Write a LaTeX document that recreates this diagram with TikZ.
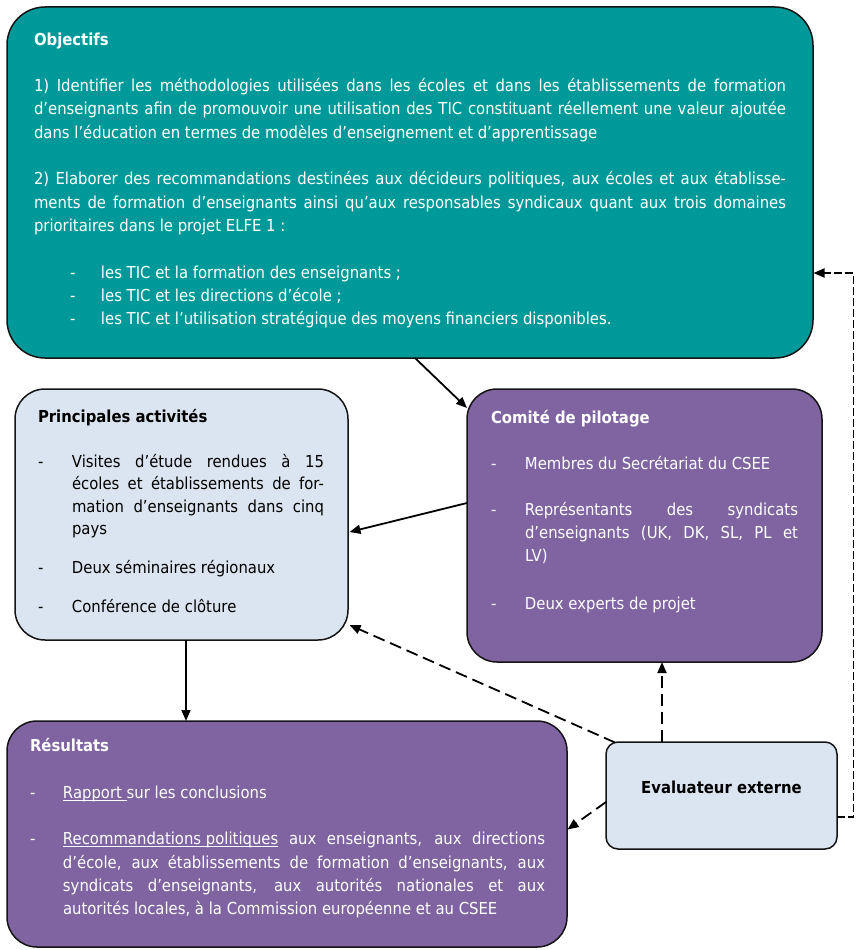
\documentclass[tikz,border=0pt]{standalone}
\usepackage{fontspec}
\setmainfont{DejaVu Sans}[FakeStretch=0.9]
\usetikzlibrary{arrows.meta,calc}
\definecolor{tealbox}{RGB}{0,153,153}
\definecolor{purpbox}{RGB}{128,100,162}
\definecolor{bluebox}{RGB}{219,229,241}
\definecolor{edgecol}{RGB}{20,20,20}
\newcommand\myul[1]{\setbox0\hbox{#1}\rlap{\rule[-2.5pt]{\wd0}{1pt}}\box0\relax}
\newcommand\bitem[3]{\par\hangindent=#2\hangafter=1\noindent\makebox[#2][l]{\hspace{#1}-}#3}
\tikzset{
  box/.style={draw=edgecol, line width=1.5pt, anchor=north west, inner sep=0pt, outer sep=0pt},
  txt/.style={anchor=north west, inner sep=0pt, outer sep=0pt, align=justify},
  conn/.style={line width=1.8pt, -{Triangle[length=11pt,width=9pt]}},
  dconn/.style={conn, dash pattern=on 12pt off 6pt},
  rconn/.style={conn, dash pattern=on 8pt off 3pt},
}
\begin{document}
\begin{tikzpicture}[x=1pt,y=-1pt]
\useasboundingbox (0,0) rectangle (855,950);
% boxes
\node[box, fill=tealbox, rounded corners=38pt, minimum width=806pt, minimum height=351pt] (obj) at (7,7) {};
\node[box, fill=bluebox, rounded corners=30pt, minimum width=333pt, minimum height=251pt] (pri) at (15,389) {};
\node[box, fill=purpbox, rounded corners=30pt, minimum width=355pt, minimum height=273pt] (com) at (467,389) {};
\node[box, fill=purpbox, rounded corners=30pt, minimum width=560pt, minimum height=226pt] (res) at (7,721) {};
\node[box, fill=bluebox, rounded corners=12pt, minimum width=231pt, minimum height=107pt] (ev) at (606,742) {};
% texts
\node[txt, text width=752pt, text=white, font=\fontsize{16.5}{23.3}\selectfont] (objt) at (34,28.7) {%
\strut\textbf{Objectifs}\par\vspace{23.3pt}%
1) Identifier les méthodologies utilisées dans les écoles et dans les établissements de formation\linebreak
d’enseignants afin de promouvoir une utilisation des TIC constituant réellement une valeur ajoutée\linebreak
dans l’éducation en termes de modèles d’enseignement et d’apprentissage\par\vspace{23.3pt}%
2) Elaborer des recommandations destinées aux décideurs politiques, aux écoles et aux établisse-\linebreak
ments de formation d’enseignants ainsi qu’aux responsables syndicaux quant aux trois domaines\linebreak
prioritaires dans le projet ELFE 1 :\par\vspace{23.3pt}%
\bitem{36pt}{67pt}{les TIC et la formation des enseignants ;}%
\bitem{36pt}{67pt}{les TIC et les directions d’école ;}%
\bitem{36pt}{67pt}{les TIC et l’utilisation stratégique des moyens financiers disponibles.}\par};
\node[txt, text width=286pt, text=black, font=\fontsize{16.5}{22.5}\selectfont] (prit) at (38,406.25) {%
\strut\textbf{Principales activités}\par\vspace{22.5pt}%
\bitem{0pt}{34pt}{Visites d’étude rendues à 15\linebreak
écoles et établissements de for-\linebreak
mation d’enseignants dans cinq\linebreak
pays}\par\vspace{16.5pt}%
\bitem{0pt}{34pt}{Deux séminaires régionaux}\par\vspace{16.5pt}%
\bitem{0pt}{34pt}{Conférence de clôture}\par};
\node[txt, text width=307pt, text=white, font=\fontsize{16.5}{23}\selectfont] (comt) at (491,406.9) {%
\strut\textbf{Comité de pilotage}\par\vspace{23pt}%
\bitem{0pt}{34pt}{Membres du Secrétariat du CSEE}\par\vspace{23pt}%
\bitem{0pt}{34pt}{Représentants des syndicats\linebreak
d’enseignants (UK, DK, SL, PL et\linebreak
LV)}\par\vspace{25pt}%
\bitem{0pt}{34pt}{Deux experts de projet}\par};
\node[txt, text width=515pt, text=white, font=\fontsize{16.5}{23.3}\selectfont] (rest) at (30,735) {%
\strut\textbf{Résultats}\par\vspace{23.5pt}%
\bitem{0pt}{33pt}{\myul{Rapport }sur les conclusions}\par\vspace{23.5pt}%
\bitem{0pt}{33pt}{\myul{Recommandations politiques} aux enseignants, aux directions\linebreak
d’école, aux établissements de formation d’enseignants, aux\linebreak
syndicats d’enseignants, aux autorités nationales et aux\linebreak
autorités locales, à la Commission européenne et au CSEE}\par};
\node[anchor=base, inner sep=0pt, font=\bfseries\fontsize{16.5}{20}\selectfont] (evt) at (721.5,793) {Evaluateur externe};
% connectors
\draw[conn] ($(obj.south west)+(408,0)$) -- ($(com.north west)+(0,19)$);
\draw[conn] ($(com.west)+(0,-22.5)$) -- ($(pri.east)+(1.5,17.5)$);
\coordinate (p1) at ($(pri.south)+(4.5,0)$);
\draw[conn] (p1) -- (p1 |- res.north);
\draw[dconn] ($(ev.north west)+(9,0.5)$) -- ($(pri.south east)+(1.5,-15)$);
\coordinate (p2) at ($(ev.north west)+(56,0)$);
\draw[dconn] (p2) -- (p2 |- com.south);
\draw[dconn] ($(ev.west)+(0,6.5)$) -- ($(res.east)+(0.5,-4.5)$);
\coordinate (p3) at ($(ev.east)+(0,21.5)$);
\coordinate (rx) at (853.5,817);
\draw[rconn] (p3) -- (rx) |- ($(obj.east)+(0.5,90.5)$);
\end{tikzpicture}
\end{document}
